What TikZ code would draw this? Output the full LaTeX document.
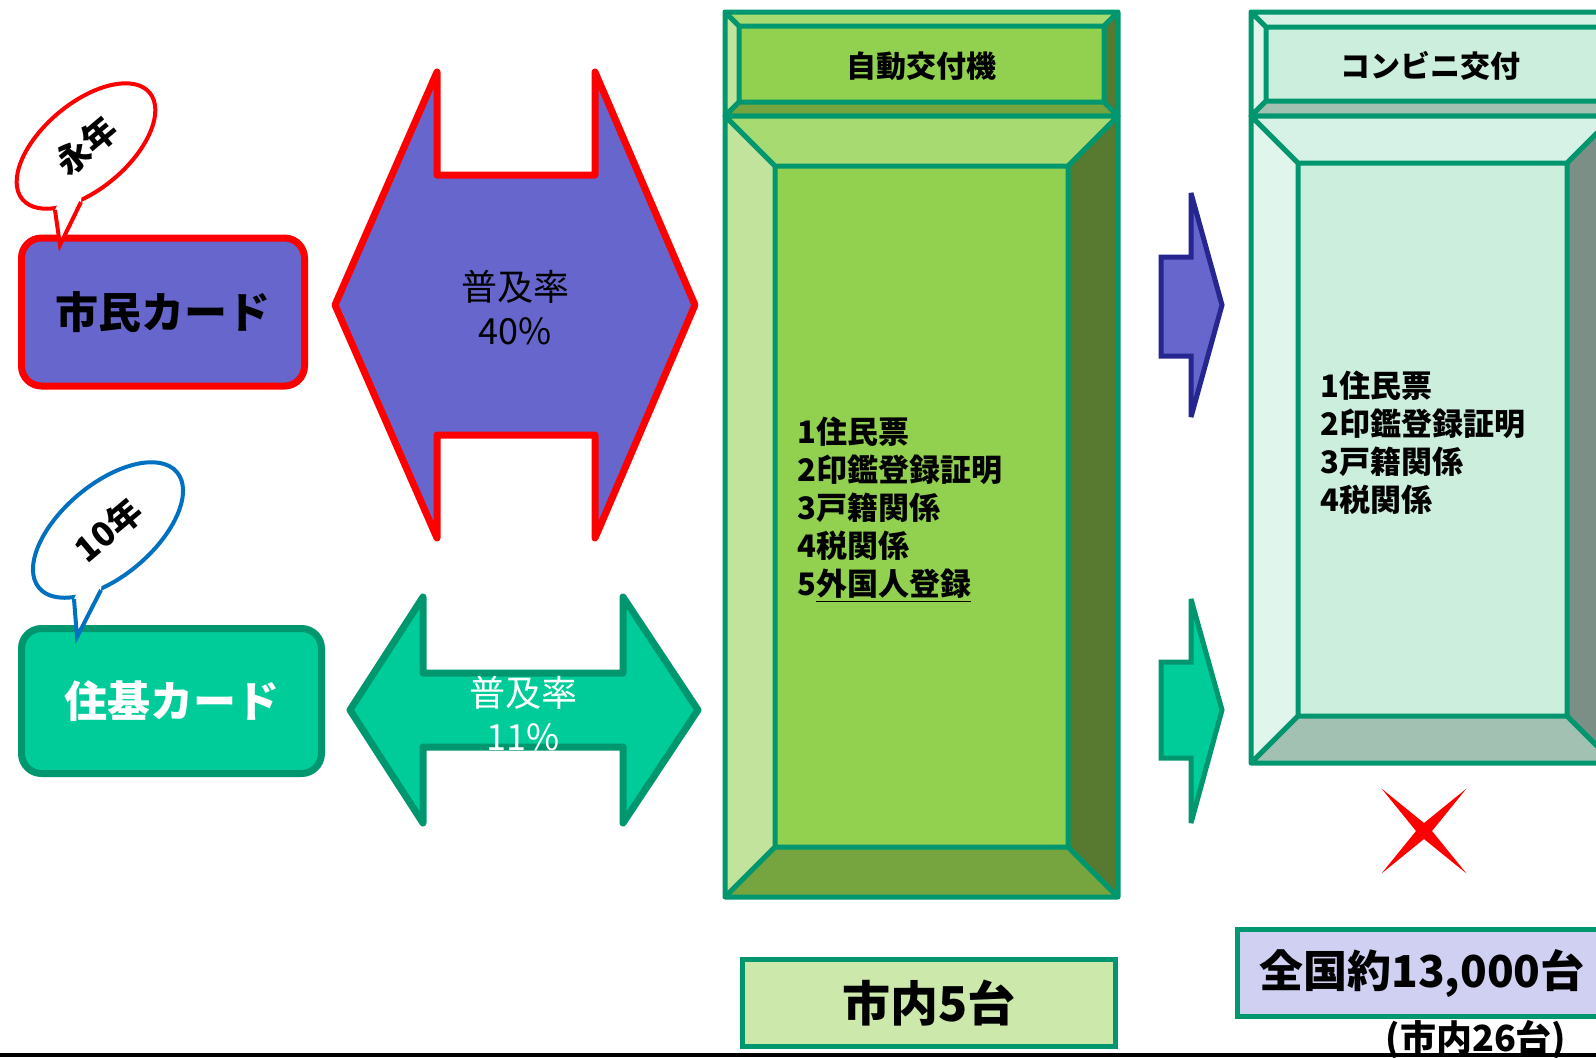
\documentclass[tikz,border=0pt]{standalone}
\usepackage{fontspec}
\setmainfont{Noto Sans CJK JP}
\usetikzlibrary{shapes.geometric,calc}

\definecolor{cardBlue}{HTML}{6666CC}
\definecolor{cardGreen}{HTML}{00CC99}
\definecolor{lineGreen}{HTML}{00966E}
\definecolor{bubbleBlue}{HTML}{0070C0}
\definecolor{navy}{HTML}{262690}
\definecolor{kioskTop}{HTML}{A8DA72}
\definecolor{kioskLeft}{HTML}{C1E39C}
\definecolor{kioskFace}{HTML}{92D050}
\definecolor{kioskRight}{HTML}{587A30}
\definecolor{kioskBottom}{HTML}{76A53F}
\definecolor{convTop}{HTML}{D6F2E6}
\definecolor{convLeft}{HTML}{E0F5EC}
\definecolor{convFace}{HTML}{CCEEDD}
\definecolor{convRight}{HTML}{7B8F86}
\definecolor{convBottom}{HTML}{A3C1B3}
\definecolor{countGreen}{HTML}{CCE8AA}
\definecolor{countBlue}{HTML}{D0D0F2}

% bevelled box: x1 y1 x2 y2 inset colour-prefix
\newcommand{\bevelbox}[6]{%
  \fill[#6Top] (#1,#2) -- (#3,#2) -- (#3-#5,#2+#5) -- (#1+#5,#2+#5) -- cycle;
  \fill[#6Left] (#1,#2) -- (#1+#5,#2+#5) -- (#1+#5,#4-#5) -- (#1,#4) -- cycle;
  \fill[#6Right] (#3,#2) -- (#3,#4) -- (#3-#5,#4-#5) -- (#3-#5,#2+#5) -- cycle;
  \fill[#6Bottom] (#1,#4) -- (#3,#4) -- (#3-#5,#4-#5) -- (#1+#5,#4-#5) -- cycle;
  \fill[#6Face] (#1+#5,#2+#5) rectangle (#3-#5,#4-#5);
  \draw[bevelline] (#1,#2) rectangle (#3,#4) (#1+#5,#2+#5) rectangle (#3-#5,#4-#5)
    (#1,#2) -- (#1+#5,#2+#5) (#3,#2) -- (#3-#5,#2+#5)
    (#1,#4) -- (#1+#5,#4-#5) (#3,#4) -- (#3-#5,#4-#5);
}

\tikzset{
  card/.style={rounded corners=10pt, line width=3.5pt, inner sep=0pt,
    font=\fontsize{21.5}{24}\selectfont\bfseries},
  bubble/.style={ellipse, fill=white, line width=2pt, inner sep=0pt, rotate=40,
    font=\fontsize{17}{19}\selectfont\bfseries},
  arrowedge/.style={line width=3.5pt, line join=round},
  smallarrow/.style={line width=2.5pt, line join=miter, miter limit=2},
  ratetext/.style={align=center, inner sep=0pt, font=\fontsize{18}{22}\selectfont},
  bevelline/.style={draw=lineGreen, line width=2.5pt, line join=round},
  headtext/.style={inner sep=0pt, font=\fontsize{15}{18}\selectfont\bfseries},
  listtext/.style={anchor=west, align=left, inner sep=0pt,
    font=\fontsize{15.5}{19}\selectfont\bfseries},
  countbox/.style={draw=lineGreen, line width=2.5pt, inner sep=0pt, minimum height=43.5pt},
}

\begin{document}
\begin{tikzpicture}[x=0.5pt,y=-0.5pt]
\useasboundingbox (0,0) rectangle (1596,1057);

% cards
\node[card, draw=red, fill=cardBlue, minimum width=141.5pt, minimum height=74pt] (shimin) at (163,312) {市民カード};
\node[card, draw=lineGreen, fill=cardGreen, text=white, minimum width=150pt, minimum height=72.5pt] (juki) at (171.5,701) {住基カード};

% speech bubbles
\node[bubble, draw=red, minimum width=83pt, minimum height=43pt] (callEi) at (86,146) {永年};
\coordinate (eiA) at (55,210);
\coordinate (eiB) at (81,202);
\coordinate (eiTip) at (60,245);
\fill[white] ($(callEi.center)!0.8!(eiA)$) -- (eiA) -- (eiTip) -- (eiB) -- ($(callEi.center)!0.8!(eiB)$) -- cycle;
\draw[red, line width=2pt] (eiA) -- (eiTip) -- (eiB);

\node[bubble, draw=bubbleBlue, minimum width=90pt, minimum height=46pt] (callTen) at (108,530) {10年};
\coordinate (tenA) at (74,599);
\coordinate (tenB) at (101,590);
\coordinate (tenTip) at (77,637);
\fill[white] ($(callTen.center)!0.8!(tenA)$) -- (tenA) -- (tenTip) -- (tenB) -- ($(callTen.center)!0.8!(tenB)$) -- cycle;
\draw[bubbleBlue, line width=2pt] (tenA) -- (tenTip) -- (tenB);

% double arrows
\draw[arrowedge, draw=red, fill=cardBlue] (335,305) -- (437,72) -- (437,175) -- (595,175) -- (595,72) -- (695,305)
  -- (595,538) -- (595,435) -- (437,435) -- (437,538) -- cycle;
\node[ratetext] (rateShimin) at (515,308) {普及率\\40\%};
\draw[arrowedge, draw=lineGreen, fill=cardGreen] (350,710) -- (423,597) -- (423,673) -- (623,673) -- (623,597) -- (698,710)
  -- (623,823) -- (623,747) -- (423,747) -- (423,823) -- cycle;
\node[ratetext, text=white] (rateJuki) at (523,714) {普及率\\11\%};

% automatic machine
\bevelbox{725}{12}{1118}{116}{14}{kiosk}
\bevelbox{725}{116}{1118}{897}{50}{kiosk}
\node[headtext] (kioskHead) at (921,66) {自動交付機};
\node[listtext] (kioskList) at (797,510) {1住民票\\2印鑑登録証明\\3戸籍関係\\4税関係\\5\underline{外国人登録}};

% small arrows
\draw[smallarrow, draw=navy, fill=cardBlue] (1161,257) -- (1191,257) -- (1191,193) -- (1222,305) -- (1191,417) -- (1191,356) -- (1161,356) -- cycle;
\draw[smallarrow, draw=lineGreen, fill=cardGreen] (1161,662) -- (1191,662) -- (1191,599) -- (1222,710) -- (1191,823) -- (1191,758) -- (1161,758) -- cycle;

% convenience store
\bevelbox{1251}{12}{1614}{116}{15}{conv}
\bevelbox{1251}{116}{1614}{763}{47}{conv}
\node[headtext] (convHead) at (1430,66) {コンビニ交付};
\node[listtext] (convList) at (1320,443) {1住民票\\2印鑑登録証明\\3戸籍関係\\4税関係};

% cross
\coordinate (cross) at (1424,831);
\fill[red] ($(cross)+(45:60)$) -- ($(cross)+(90:8)$) -- ($(cross)+(135:60)$) -- ($(cross)+(180:8)$)
  -- ($(cross)+(225:60)$) -- ($(cross)+(270:8)$) -- ($(cross)+(315:60)$) -- ($(cross)+(0:8)$) -- cycle;

% counts
\node[countbox, fill=countGreen, minimum width=186.5pt, font=\fontsize{24}{28}\selectfont\bfseries] (kioskCount) at (929,1003) {市内5台};
\node[countbox, fill=countBlue, minimum width=184.5pt, font=\fontsize{22}{26}\selectfont\bfseries] (convCount) at (1422,973) {全国約13,000台};
\node[inner sep=0pt, font=\fontsize{18}{20}\selectfont\bfseries] (convLocal) at (1476,1040) {(市内26台)};

\fill[black] (0,1053) rectangle (1596,1057);
\end{tikzpicture}
\end{document}
